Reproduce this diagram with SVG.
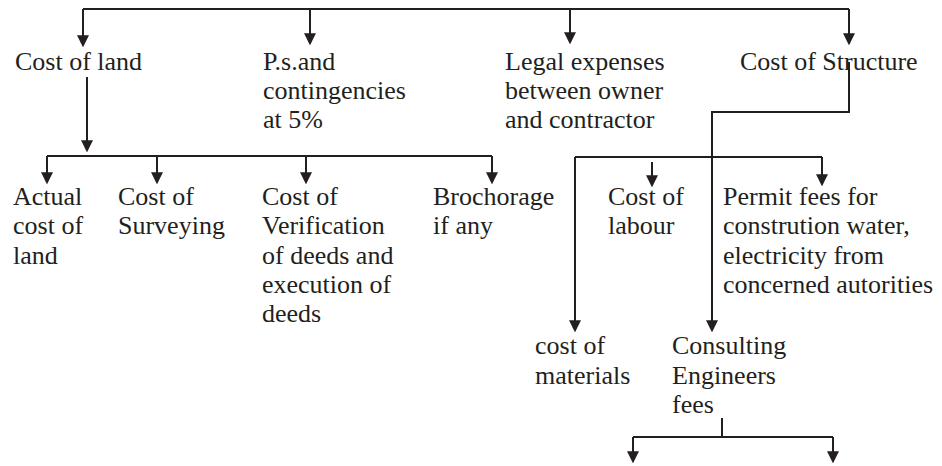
<svg xmlns="http://www.w3.org/2000/svg" width="942" height="466" viewBox="0 0 942 466">
<style>
text{font-family:'Liberation Serif','Tinos','Times New Roman','DejaVu Serif',serif;font-size:26px;fill:#231f20}
.c{fill:none;stroke:#231f20;stroke-width:2}
</style>
<defs>
<marker id="ah" markerUnits="userSpaceOnUse" markerWidth="12" markerHeight="12" viewBox="0 0 11 11" refX="7" refY="5.5" orient="auto">
<path d="M0,0 L11,5.5 L0,11 z" fill="#231f20"/>
</marker>
</defs>
<rect width="942" height="466" fill="#fff"/>
<g id="connectors" class="c">
<path class="c" d="M83,9 H849"/>
<path class="c" d="M83,9 V43" marker-end="url(#ah)"/>
<path class="c" d="M310,9 V41" marker-end="url(#ah)"/>
<path class="c" d="M570,9 V40" marker-end="url(#ah)"/>
<path class="c" d="M849,9 V41" marker-end="url(#ah)"/>
<path class="c" d="M87,77 V148" marker-end="url(#ah)"/>
<path class="c" d="M47,156 H492"/>
<path class="c" d="M47,156 V180" marker-end="url(#ah)"/>
<path class="c" d="M157,156 V180" marker-end="url(#ah)"/>
<path class="c" d="M306,156 V180" marker-end="url(#ah)"/>
<path class="c" d="M492,156 V180" marker-end="url(#ah)"/>
<path class="c" d="M849,62 V112 H712 V328" marker-end="url(#ah)"/>
<path class="c" d="M575,157 H822"/>
<path class="c" d="M575,157 V328" marker-end="url(#ah)"/>
<path class="c" d="M822,157 V182" marker-end="url(#ah)"/>
<path class="c" d="M652,162 V183" marker-end="url(#ah)"/>
<path class="c" d="M722,418 V437"/>
<path class="c" d="M633,437 H833"/>
<path class="c" d="M633,437 V459" marker-end="url(#ah)"/>
<path class="c" d="M833,437 V459" marker-end="url(#ah)"/>
</g>
<g font-family="Liberation Serif, Times New Roman, DejaVu Serif, serif">
<g id="cost-of-land"><text x="15" y="70">Cost of land</text></g>
<g id="ps-contingencies"><text x="263" y="70">P.s.and</text><text x="263" y="99">contingencies</text><text x="263" y="128">at 5%</text></g>
<g id="legal-expenses"><text x="505" y="70">Legal expenses</text><text x="505" y="99">between owner</text><text x="505" y="128">and contractor</text></g>
<g id="cost-of-structure"><text x="740" y="70">Cost of Structure</text></g>
<g id="actual-cost"><text x="13" y="205">Actual</text><text x="13" y="234">cost of</text><text x="13" y="264">land</text></g>
<g id="surveying"><text x="118" y="205">Cost of</text><text x="118" y="234">Surveying</text></g>
<g id="verification"><text x="262" y="205">Cost of</text><text x="262" y="234">Verification</text><text x="262" y="264">of deeds and</text><text x="262" y="293">execution of</text><text x="262" y="322">deeds</text></g>
<g id="brochorage"><text x="433" y="205">Brochorage</text><text x="433" y="234">if any</text></g>
<g id="labour"><text x="608" y="205">Cost of</text><text x="608" y="234">labour</text></g>
<g id="permit-fees"><text x="723" y="205">Permit fees for</text><text x="723" y="234">constrution water,</text><text x="723" y="264">electricity from</text><text x="723" y="293">concerned autorities</text></g>
<g id="materials"><text x="535" y="354">cost of</text><text x="535" y="384">materials</text></g>
<g id="consulting"><text x="672" y="354">Consulting</text><text x="672" y="384">Engineers</text><text x="672" y="413">fees</text></g>
</g>
</svg>
